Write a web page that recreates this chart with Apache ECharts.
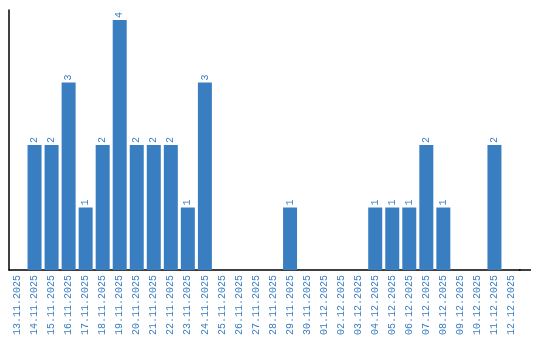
<!DOCTYPE html>
<html>
<head>
    <meta charset="utf-8">
    <title>Bars by day</title>
    <script src="https://cdn.jsdelivr.net/npm/echarts@6/dist/echarts.min.js"></script>
    <style>
        html, body { margin: 0; padding: 0; background: #fff; }
    </style>
</head>
<body>
<div id="main" style="width: 540px;height:340px;"></div>
<script>
    // dates on the x axis
    var days = ['13.11.2025', '14.11.2025', '15.11.2025', '16.11.2025', '17.11.2025', '18.11.2025',
        '19.11.2025', '20.11.2025', '21.11.2025', '22.11.2025', '23.11.2025', '24.11.2025',
        '25.11.2025', '26.11.2025', '27.11.2025', '28.11.2025', '29.11.2025', '30.11.2025',
        '01.12.2025', '02.12.2025', '03.12.2025', '04.12.2025', '05.12.2025', '06.12.2025',
        '07.12.2025', '08.12.2025', '09.12.2025', '10.12.2025', '11.12.2025', '12.12.2025'];
    // count per day
    var counts = [0, 2, 2, 3, 1, 2,
        4, 2, 2, 2, 1, 3,
        0, 0, 0, 0, 1, 0,
        0, 0, 0, 1, 1, 1,
        2, 1, 0, 0, 2, 0];

    var blue = '#3a7ec2';

    var myChart = echarts.init(document.getElementById('main'));
    myChart.setOption({
        animation: false,
        grid: { left: 9, right: 20, top: 10, bottom: 70 },
        // x axis line runs a bit past the last category
        graphic: [{
            type: 'line',
            shape: { x1: 519, y1: 270, x2: 531, y2: 270 },
            style: { stroke: '#000', lineWidth: 1.5 }
        }],
        xAxis: {
            type: 'category',
            data: days,
            axisLine: { lineStyle: { color: '#000', width: 1.5 } },
            axisTick: { show: false },
            axisLabel: {
                interval: 0,
                rotate: 90,
                color: blue,
                fontFamily: 'Liberation Mono',
                fontSize: 10,
                margin: 5
            }
        },
        yAxis: {
            type: 'value',
            min: 0,
            max: 4.16,
            splitLine: { show: false },
            axisLabel: { show: false },
            axisTick: { show: false },
            axisLine: { show: true, lineStyle: { color: '#000', width: 1.5 } }
        },
        series: [{
            type: 'bar',
            data: counts,
            barWidth: 14,
            itemStyle: { color: blue },
            label: {
                show: true,
                position: 'top',
                rotate: 90,
                align: 'left',
                verticalAlign: 'middle',
                distance: 2,
                color: blue,
                fontFamily: 'Liberation Mono',
                fontSize: 10,
                formatter: function (p) { return p.value > 0 ? p.value : ''; }
            }
        }]
    });
</script>
</body>
</html>
